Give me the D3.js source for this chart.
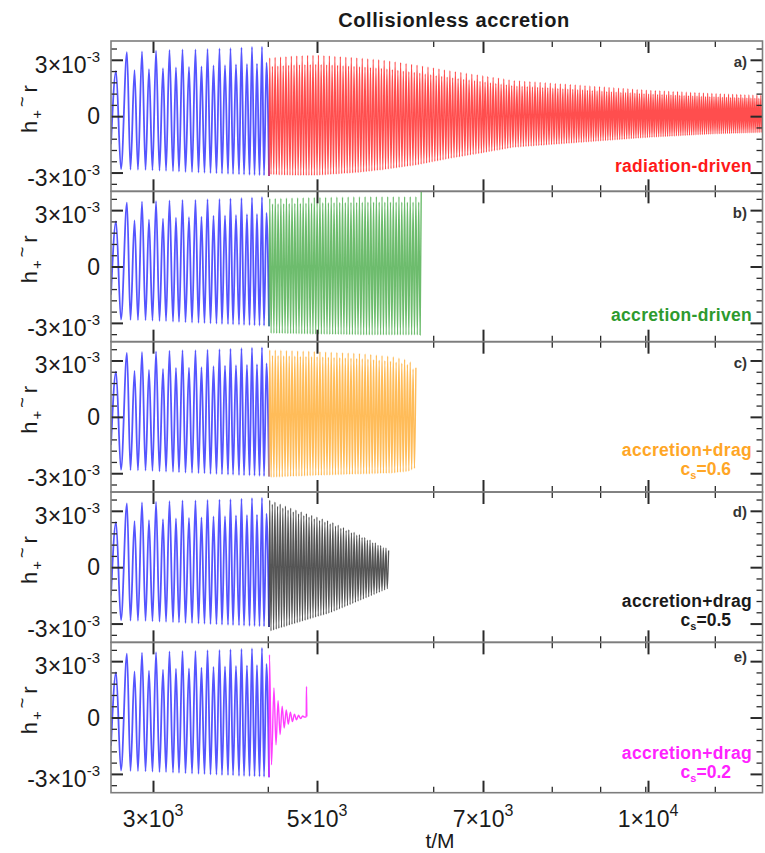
<!DOCTYPE html>
<html>
<head>
<meta charset="utf-8">
<script src="https://cdn.jsdelivr.net/npm/d3@7"></script>
<style>
  body { margin: 0; background: #fff; }
  svg { display: block; }
  text { font-family: "Liberation Sans", Arial, Helvetica, sans-serif; }
</style>
</head>
<body>
<svg id="chart" width="765" height="853"></svg>
<script>
// ---------------- data ----------------
// Strain values are in units of 1e-3.

// time-axis ticks
const xMajorTicks = [3000, 5000, 7000, 10000];
const xMajorLabels = [["3×10", "3"], ["5×10", "3"], ["7×10", "3"], ["1×10", "4"]];
const xMinorTicks = [4400, 6400, 8250, 9130, 9950, 11220];

// strain-axis ticks
const yMajorTicks = [-3, 0, 3];
const yMajorLabels = [["-3×10", "-3"], ["0", ""], ["3×10", "-3"]];
const yMinorTicks = [-3.6, -2.4, -1.8, -1.2, -0.6, 0.6, 1.2, 1.8, 2.4, 3.6];

// common inspiral before the switch-over (extrema of the waveform)
const inspiralT = [2500, 2560, 2619, 2690, 2732, 2780, 2821, 2869, 2911, 2952, 2994,
  3037, 3079, 3122, 3159, 3201, 3244, 3280, 3317, 3360, 3396, 3439, 3476, 3518, 3555,
  3591, 3628, 3665, 3701, 3738, 3774, 3811, 3841, 3878, 3915, 3945, 3976, 4012, 4049,
  4079, 4110, 4146, 4177, 4207, 4238, 4268, 4299, 4329, 4354, 4384, 4415];
const inspiralH = [-1.5, 2.40, -2.82, 3.40, -2.84, 2.45, -2.85, 3.45, -2.86, 2.50, -2.88,
  3.48, -2.90, 2.55, -2.91, 3.52, -2.93, 2.60, -2.95, 3.55, -2.97, 2.62, -2.98, 3.55, -3.00,
  2.65, -3.01, 3.58, -3.03, 2.70, -3.04, 3.60, -3.06, 2.72, -3.07, 3.62, -3.08, 2.75, -3.10,
  3.65, -3.11, 2.78, -3.12, 3.68, -3.13, 2.80, -3.14, 3.70, -3.15, 2.85, -3.18];

// a) radiation-driven: envelope of the oscillation and its cycle length
const radT     = [4415, 4700, 5000, 5500, 5800, 6200, 6600, 7000, 7550, 8750, 10000, 11200, 12100];
const radUpper = [3.10, 3.20, 3.25, 3.10, 2.98, 2.72, 2.42, 2.15, 1.90, 1.65, 1.38, 1.20, 1.10];
const radLower = [-3.10, -3.15, -3.15, -3.00, -2.85, -2.60, -2.25, -1.95, -1.66, -1.40, -1.13, -0.94, -0.86];
const radPeriodT = [4415, 6999, 7000, 12100];
const radPeriod  = [33, 33, 49, 36];
const radAlt = 0.85;

// b) accretion-driven
const accT     = [4415, 5000, 5600, 6256];
const accUpper = [3.62, 3.68, 3.72, 3.72];
const accLower = [-3.55, -3.60, -3.64, -3.64];
const accPeriod = 34, accAlt = 0.92, accEndSpike = 3.98;

// c) accretion + drag, c_s = 0.6
const c6T     = [4415, 5000, 5500, 5900, 6100, 6195];
const c6Upper = [3.56, 3.48, 3.38, 3.22, 3.02, 2.60];
const c6Lower = [-3.22, -3.12, -3.05, -3.00, -2.90, -2.70];
const c6Period = 34, c6Alt = 0.92;

// d) accretion + drag, c_s = 0.5
const c5T     = [4415, 4800, 5160, 5500, 5866];
const c5Upper = [3.58, 2.95, 2.43, 1.75, 0.93];
const c5Lower = [-3.42, -2.90, -2.43, -1.80, -1.11];
const c5Period = 32, c5Alt = 0.95;

// e) accretion + drag, c_s = 0.2 (ringdown extrema)
const c2T = [4415, 4420, 4445, 4475, 4500, 4525, 4550, 4575, 4600, 4625, 4650, 4675,
  4700, 4725, 4750, 4775, 4800, 4825, 4850, 4868, 4872, 4876];
const c2H = [-3.18, 3.34, -2.51, 1.57, -1.45, 0.90, -0.91, 0.60, -0.56, 0.40, -0.35, 0.28,
  -0.22, 0.18, -0.12, 0.12, -0.06, 0.08, 0.02, 0.04, 1.65, 0.05];

const panelLetters = ["a)", "b)", "c)", "d)", "e)"];
const panelNames = [["radiation-driven"], ["accretion-driven"],
  ["accretion+drag", "0.6"], ["accretion+drag", "0.5"], ["accretion+drag", "0.2"]];

// ---------------- helpers ----------------
// build extrema sequence that follows an upper/lower envelope;
// `period` is either a constant or a function of time
function envelopeWave(T, U, L, period, alt) {
  const up = d3.scaleLinear().domain(T).range(U);
  const lo = d3.scaleLinear().domain(T).range(L);
  const per = typeof period === "function" ? period : () => period;
  const t0 = T[0], t1 = T[T.length - 1];
  const pts = [];
  let k = 0;
  for (let t = t0 + per(t0) / 4; t < t1; t += per(t) / 2, k++) {
    if (k % 2 === 0) pts.push([t, up(t) * (k % 4 === 0 ? 1 : alt)]);
    else pts.push([t, lo(t)]);
  }
  return pts;
}

const inspiral = inspiralT.map((t, i) => [t, inspiralH[i]]);
const lastIns = inspiral[inspiral.length - 1];

const radPeriodScale = d3.scaleLinear().domain(radPeriodT).range(radPeriod);
const seriesA = [lastIns].concat(envelopeWave(radT, radUpper, radLower, radPeriodScale, radAlt));
const seriesB = [lastIns].concat(envelopeWave(accT, accUpper, accLower, accPeriod, accAlt),
  [[accT[accT.length - 1], accEndSpike]]);
const seriesC = [lastIns].concat(envelopeWave(c6T, c6Upper, c6Lower, c6Period, c6Alt));
const seriesD = [lastIns].concat(envelopeWave(c5T, c5Upper, c5Lower, c5Period, c5Alt));
const seriesE = c2T.map((t, i) => [t, c2H[i]]);

// ---------------- layout & style ----------------
const plotLeft = 111, plotRight = 762.5, plotTop = 41, plotBottom = 792.7;
const panelH = (plotBottom - plotTop) / 5;

const panels = [
  { series: seriesA, line: "#ff1c1c", width: 1.3, opacity: 0.78, text: "#ff1a1a", letterDy: 25.5, nameDy: [130.5] },
  { series: seriesB, line: "#2f9f2f", width: 1.4, opacity: 0.7, text: "#2e9a2e", letterDy: 27, nameDy: [130] },
  { series: seriesC, line: "#ffa521", width: 1.4, opacity: 0.75, text: "#ffa626", letterDy: 26, nameDy: [114.5, 133.5] },
  { series: seriesD, line: "#1c1c1c", width: 1.3, opacity: 0.75, text: "#1a1a1a", letterDy: 25, nameDy: [115, 133.5] },
  { series: seriesE, line: "#ff1cff", width: 1.4, opacity: 0.85, text: "#ff22ff", letterDy: 19.5, nameDy: [117, 135.5] }
];

const svg = d3.select("#chart");

// piecewise-linear time axis
const x = d3.scaleLinear()
  .domain([2500, 3000, 5000, 7000, 10000, 12100])
  .range([plotLeft, 153, 317, 483, 648, 763]);

const frameColor = "#7d7d7d";
const tickColor = "#2a2a2a";

// title
svg.append("text")
  .attr("x", 454).attr("y", 27)
  .attr("text-anchor", "middle")
  .attr("font-size", 20).attr("font-weight", "bold")
  .attr("letter-spacing", 0.6)
  .attr("fill", "#1a1a1a")
  .text("Collisionless accretion");

panels.forEach((p, i) => {
  const top = plotTop + i * panelH;
  const bottom = top + panelH;
  const y = d3.scaleLinear().domain([-4, 4]).range([bottom, top]);
  const g = svg.append("g");

  const clipId = "clip" + i;
  svg.append("clipPath").attr("id", clipId)
    .append("rect").attr("x", plotLeft).attr("y", top)
    .attr("width", plotRight - plotLeft).attr("height", panelH);

  const line = d3.line().x(d => x(d[0])).y(d => y(d[1])).curve(d3.curveMonotoneX);

  const lines = g.append("g").attr("clip-path", `url(#${clipId})`);
  lines.append("path").datum(inspiral)
    .attr("d", line).attr("fill", "none")
    .attr("stroke", "#2a2aff").attr("stroke-width", 1.8).attr("stroke-opacity", 0.8);
  lines.append("path").datum(p.series)
    .attr("d", line).attr("fill", "none")
    .attr("stroke", p.line).attr("stroke-width", p.width).attr("stroke-opacity", p.opacity);

  // ticks (all pointing inward)
  const tickGroup = (axis, tx, ty, w) => {
    const a = g.append("g").attr("transform", `translate(${tx},${ty})`).call(axis);
    a.select(".domain").remove();
    a.selectAll("line").attr("stroke", tickColor).attr("stroke-width", w);
  };
  tickGroup(d3.axisBottom(x).tickValues(xMajorTicks).tickSize(-12).tickSizeOuter(0).tickFormat(""), 0, bottom, 2);
  tickGroup(d3.axisBottom(x).tickValues(xMinorTicks).tickSize(-6).tickSizeOuter(0).tickFormat(""), 0, bottom, 1.3);
  tickGroup(d3.axisTop(x).tickValues(xMajorTicks).tickSize(-12).tickSizeOuter(0).tickFormat(""), 0, top, 2);
  tickGroup(d3.axisTop(x).tickValues(xMinorTicks).tickSize(-6).tickSizeOuter(0).tickFormat(""), 0, top, 1.3);
  tickGroup(d3.axisLeft(y).tickValues(yMajorTicks).tickSize(-12).tickSizeOuter(0).tickFormat(""), plotLeft, 0, 2);
  tickGroup(d3.axisLeft(y).tickValues(yMinorTicks).tickSize(-6).tickSizeOuter(0).tickFormat(""), plotLeft, 0, 1.3);
  tickGroup(d3.axisRight(y).tickValues(yMajorTicks).tickSize(-12).tickSizeOuter(0).tickFormat(""), plotRight, 0, 2);
  tickGroup(d3.axisRight(y).tickValues(yMinorTicks).tickSize(-6).tickSizeOuter(0).tickFormat(""), plotRight, 0, 1.3);

  // frame
  g.append("rect").attr("x", plotLeft).attr("y", top)
    .attr("width", plotRight - plotLeft).attr("height", panelH)
    .attr("fill", "none").attr("stroke", frameColor).attr("stroke-width", 1.6);

  // strain tick labels
  yMajorTicks.forEach((v, j) => {
    const [main, sup] = yMajorLabels[j];
    const t = g.append("text")
      .attr("x", 100).attr("y", y(v) + (sup ? 13 : 8))
      .attr("text-anchor", "end").attr("font-size", 23).attr("fill", "#1a1a1a");
    t.append("tspan").text(main);
    if (sup) t.append("tspan").attr("font-size", 15).attr("dy", -11).text(sup);
  });

  // y-axis title
  const yt = g.append("text")
    .attr("transform", `translate(37,${top + 92}) rotate(-90)`)
    .attr("font-size", 22).attr("fill", "#1a1a1a");
  yt.append("tspan").text("h");
  yt.append("tspan").attr("font-size", 15).attr("dy", 5).attr("dx", 2).text("+");
  yt.append("tspan").attr("font-size", 18).attr("dy", -14).attr("dx", 3).text("~");
  yt.append("tspan").attr("dy", 9).attr("dx", 4).text("r");

  // panel letter
  g.append("text").attr("x", 747).attr("y", top + p.letterDy)
    .attr("text-anchor", "end").attr("font-size", 15).attr("font-weight", "bold")
    .attr("fill", "#333").text(panelLetters[i]);

  // model name
  const names = panelNames[i];
  g.append("text").attr("x", 752).attr("y", top + p.nameDy[0])
    .attr("text-anchor", "end").attr("font-size", 17.5).attr("font-weight", "bold")
    .attr("letter-spacing", 0.3)
    .attr("fill", p.text).text(names[0]);
  if (names.length > 1) {
    const t2 = g.append("text").attr("x", 731).attr("y", top + p.nameDy[1])
      .attr("text-anchor", "end").attr("font-size", 17.5).attr("font-weight", "bold")
      .attr("fill", p.text);
    t2.append("tspan").text("c");
    t2.append("tspan").attr("font-size", 11).attr("dy", 4).text("s");
    t2.append("tspan").attr("dy", -4).text("=" + names[1]);
  }
});

// time tick labels
xMajorTicks.forEach((v, j) => {
  const [main, sup] = xMajorLabels[j];
  const t = svg.append("text")
    .attr("x", x(v)).attr("y", 826.5)
    .attr("text-anchor", "middle").attr("font-size", 23).attr("fill", "#1a1a1a");
  t.append("tspan").text(main);
  t.append("tspan").attr("font-size", 16).attr("dy", -11).text(sup);
});

// x-axis title
svg.append("text").attr("x", 440).attr("y", 848)
  .attr("text-anchor", "middle").attr("font-size", 21).attr("fill", "#1a1a1a")
  .text("t/M");
</script>
</body>
</html>
